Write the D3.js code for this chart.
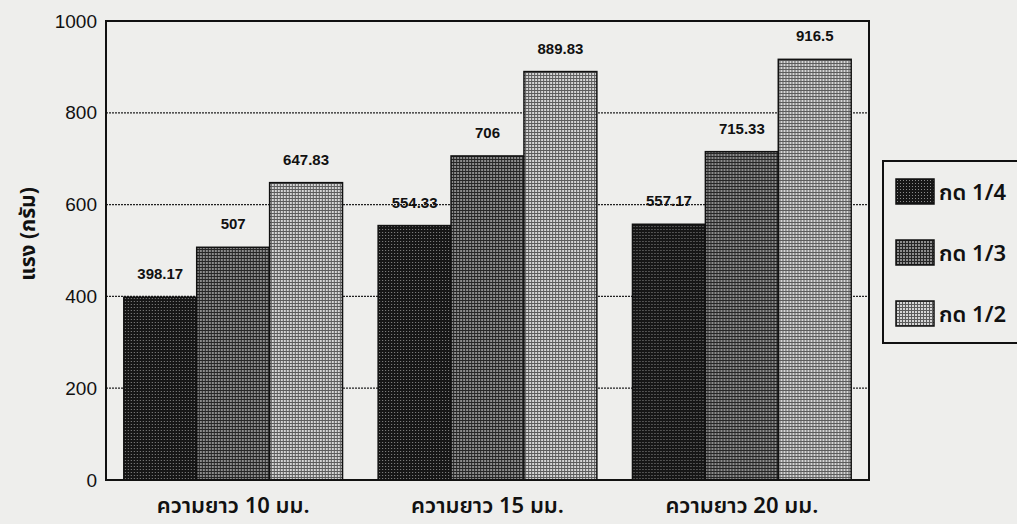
<!DOCTYPE html>
<html>
<head>
<meta charset="utf-8">
<script src="https://cdn.jsdelivr.net/npm/d3@7"></script>
<style>
  html, body { margin: 0; padding: 0; background: #eeeeec; }
  svg { display: block; }
  text { font-family: "Liberation Sans", Arial, sans-serif; fill: #111; }
  .thai { font-family: "Noto Sans Thai", "Noto Sans Thai UI", Tahoma, "Noto Sans", sans-serif; }
</style>
</head>
<body>
<svg id="chart" width="1017" height="524"></svg>
<script>
// Pulling force by stem length (groups) and press depth (series)
const categories = ["ความยาว 10 มม.", "ความยาว 15 มม.", "ความยาว 20 มม."];
const seriesNames = ["กด 1/4", "กด 1/3", "กด 1/2"];
const press14 = [398.17, 554.33, 557.17];
const press13 = [507, 706, 715.33];
const press12 = [647.83, 889.83, 916.5];
const yTicks = [0, 200, 400, 600, 800, 1000];
const yTitle = "แรง (กรัม)";

const seriesValues = [press14, press13, press12];

const W = 1017, H = 524;
const margin = { left: 106, top: 21, right: 148, bottom: 44 };
const plotW = W - margin.left - margin.right;
const plotH = H - margin.top - margin.bottom;

const svg = d3.select("#chart");

// Halftone-like fills for the three series
const defs = svg.append("defs");
const fills = [
  { id: "pat0", bg: "#161616", fg: "#8a8a8a", size: 1 },
  { id: "pat1", bg: "#262626", fg: "#8c8c8c", size: 2 },
  { id: "pat2", bg: "#5c5c5c", fg: "#d6d6d6", size: 2 }
];
fills.forEach(f => {
  const p = defs.append("pattern")
    .attr("id", f.id).attr("patternUnits", "userSpaceOnUse")
    .attr("width", 3).attr("height", 3);
  p.append("rect").attr("width", 3).attr("height", 3).attr("fill", f.bg);
  p.append("rect").attr("x", 1).attr("y", 1)
    .attr("width", f.size).attr("height", f.size).attr("fill", f.fg);
});

const g = svg.append("g").attr("transform", `translate(${margin.left},${margin.top})`);

const x0 = d3.scaleBand().domain(categories).range([0, plotW])
  .paddingInner(0.14).paddingOuter(0.07);
const x1 = d3.scaleBand().domain(seriesNames).range([0, x0.bandwidth()]);
const y = d3.scaleLinear().domain([0, 1000]).range([plotH, 0]);

// Dotted gridlines
g.append("g").selectAll("line")
  .data(yTicks.filter(t => t > 0 && t < 1000))
  .join("line")
  .attr("x1", 0).attr("x2", plotW)
  .attr("y1", d => y(d)).attr("y2", d => y(d))
  .attr("stroke", "#222").attr("stroke-width", 1.2)
  .attr("stroke-dasharray", "2,1");

// Bars
const groups = g.append("g").selectAll("g")
  .data(categories)
  .join("g")
  .attr("transform", d => `translate(${x0(d)},0)`);

groups.selectAll("rect")
  .data((d, ci) => seriesNames.map((s, si) => ({ s, si, v: seriesValues[si][ci] })))
  .join("rect")
  .attr("x", d => x1(d.s))
  .attr("y", d => y(d.v))
  .attr("width", x1.bandwidth())
  .attr("height", d => plotH - y(d.v))
  .attr("fill", d => `url(#pat${d.si})`)
  .attr("stroke", "#111").attr("stroke-width", 1.5);

// Value labels above bars
groups.selectAll("text.val")
  .data((d, ci) => seriesNames.map((s, si) => ({ s, si, v: seriesValues[si][ci] })))
  .join("text")
  .attr("class", "val")
  .attr("x", d => x1(d.s) + x1.bandwidth() / 2)
  .attr("y", d => y(d.v) - 18)
  .attr("text-anchor", "middle")
  .attr("font-size", 15).attr("font-weight", "bold")
  .text(d => d.v);

// Plot frame
g.append("rect")
  .attr("x", 0).attr("y", 0).attr("width", plotW).attr("height", plotH)
  .attr("fill", "none").attr("stroke", "#111").attr("stroke-width", 2);

// Y axis labels
const yAxis = d3.axisLeft(y).tickValues(yTicks).tickFormat(d3.format("d"))
  .tickSize(0).tickPadding(9);
const ya = g.append("g").call(yAxis);
ya.select(".domain").remove();
ya.selectAll("text")
  .attr("font-size", 19)
  .attr("font-family", "'Liberation Sans', Arial, sans-serif")
  .attr("fill", "#111");

// X axis category labels
const xAxis = d3.axisBottom(x0).tickSize(0).tickPadding(17);
const xa = g.append("g").attr("transform", `translate(0,${plotH})`).call(xAxis);
xa.select(".domain").remove();
xa.selectAll("text")
  .attr("class", "thai")
  .attr("font-size", 22)
  .attr("font-weight", 600)
  .attr("font-family", null)
  .attr("fill", "#111");

// Y axis title
svg.append("text")
  .attr("class", "thai")
  .attr("transform", "translate(35,234) rotate(-90)")
  .attr("text-anchor", "middle")
  .attr("font-size", 21).attr("font-weight", "bold")
  .text(yTitle);

// Legend
const lg = svg.append("g").attr("transform", "translate(883,161)");
lg.append("rect")
  .attr("x", 0).attr("y", 0).attr("width", 150).attr("height", 182)
  .attr("fill", "none").attr("stroke", "#111").attr("stroke-width", 2);
const items = lg.selectAll("g.item")
  .data(seriesNames)
  .join("g")
  .attr("class", "item")
  .attr("transform", (d, i) => `translate(13,${18 + i * 61})`);
items.append("rect")
  .attr("width", 38).attr("height", 25)
  .attr("fill", (d, i) => `url(#pat${i})`)
  .attr("stroke", "#111").attr("stroke-width", 1.5);
items.append("text")
  .attr("class", "thai")
  .attr("x", 43).attr("y", 21)
  .attr("font-size", 22).attr("font-weight", 600)
  .text(d => d);
</script>
</body>
</html>
